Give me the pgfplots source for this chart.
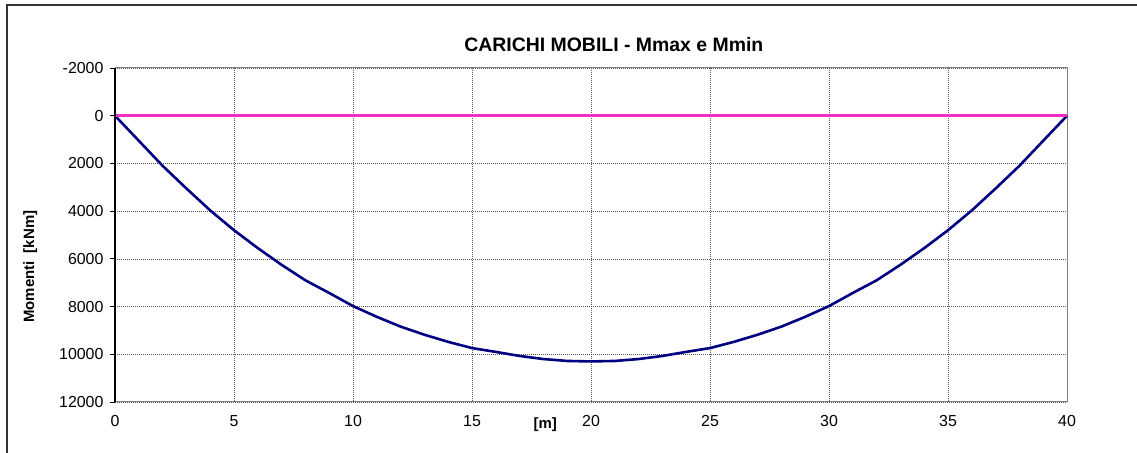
\documentclass[border=0pt]{standalone}
\usepackage{pgfplots}
\pgfplotsset{compat=1.18}
\usepackage{fontspec}
\setmainfont{Liberation Sans}
\definecolor{mblue}{RGB}{0,0,128}
\definecolor{mmag}{RGB}{238,48,200}
\begin{document}
\begin{tikzpicture}[x=1bp,y=1bp]
\path[use as bounding box] (0,0) rectangle (1137,453);
\draw[line width=1.3bp, black!80] (7,0) -- (7,448) -- (1137,448);
\begin{axis}[
  at={(115bp,51bp)}, anchor=south west,
  scale only axis, width=952bp, height=334bp,
  xmin=0, xmax=40, ymin=-2000, ymax=12000, y dir=reverse,
  scaled y ticks=false, scaled x ticks=false,
  xtick={0,5,10,15,20,25,30,35,40},
  xticklabels={0,5,10,15,20,25,30,35,40},
  ytick={-2000,0,2000,4000,6000,8000,10000,12000},
  yticklabels={-2000,0,2000,4000,6000,8000,10000,12000},
  grid=major,
  grid style={black!65, line width=0.7bp, dash pattern=on 1bp off 1bp},
  axis line style={draw=black!50, line width=1bp},
  tick align=outside, ytick pos=left,
  major tick length=5bp,
  xtick style={draw=none},
  ytick style={black, line width=0.8bp},
  ticklabel style={font=\fontsize{16}{18}\selectfont},
  yticklabel style={xshift=-3bp},
  xticklabel style={yshift=-5bp},
  title={\bfseries CARICHI MOBILI - Mmax e Mmin},
  title style={at={(axis description cs:0.524,1.051)}, anchor=center, font=\fontsize{19.5}{22}\selectfont},
  ylabel={\bfseries Momenti\ \ [kNm]},
  ylabel style={at={(axis description cs:-0.089,0.405)}, anchor=center, font=\fontsize{15}{17}\selectfont},
  xlabel={\bfseries [m]},
  xlabel style={at={(axis description cs:0.452,-0.068)}, anchor=center, font=\fontsize{15}{17}\selectfont},
  clip=false,
]
\addplot[mblue, line width=2.6bp, line join=round] coordinates {
(0,0) (1,1050) (2,2100) (3,3050) (4,3970) (5,4800) (6,5550) (7,6250) (8,6900) (9,7430)
(10,7980) (11,8430) (12,8840) (13,9180) (14,9480) (15,9740) (16,9900) (17,10070) (18,10200) (19,10280)
(20,10300) (21,10280) (22,10200) (23,10070) (24,9900) (25,9740) (26,9480) (27,9180) (28,8840) (29,8430)
(30,7980) (31,7430) (32,6900) (33,6250) (34,5550) (35,4800) (36,3970) (37,3050) (38,2100) (39,1050) (40,0)
};
\addplot[mmag, line width=2.6bp] coordinates {
(0,0) (1,0) (5,0) (10,0) (15,0) (20,0) (25,0) (30,0) (35,0) (39,0) (40,0)
};
\draw[black, line width=1.1bp] (rel axis cs:0,0) -- (rel axis cs:0,1);
\end{axis}
\end{tikzpicture}
\end{document}
